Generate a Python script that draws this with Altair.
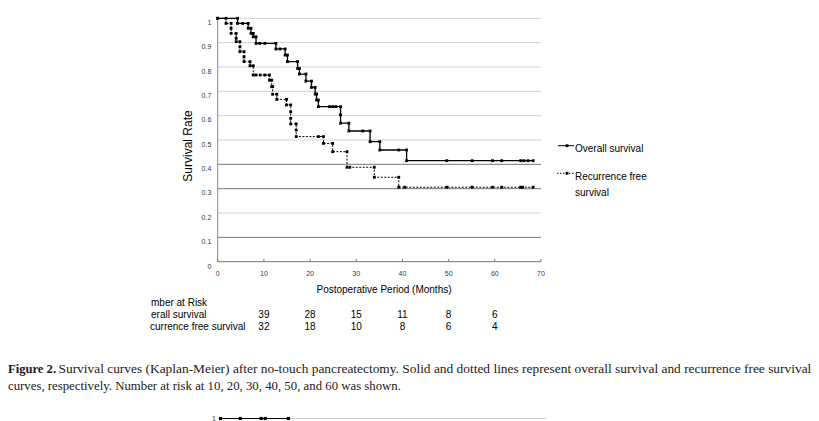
import altair as alt
import pandas as pd

# ---------------- data ----------------
os_t = [0, 4.3, 4.3, 5.4, 6.6, 6.6, 7.2, 7.2, 7.7, 7.7, 8.3, 8.3, 9.1, 10.2, 12.6,
        12.6, 13.5, 14.6, 14.6, 15.1, 15.1, 17.3, 17.3, 17.7, 17.7, 19.1, 19.1, 20.3,
        20.3, 21.1, 21.1, 21.4, 21.4, 21.8, 21.8, 24.2, 24.9, 25.6, 26.6, 26.6, 26.6,
        28.4, 28.4, 31.4, 33.0, 33.0, 35.1, 35.1, 39.2, 40.9, 40.9, 49.6, 55.1, 59.5,
        61.5, 65.6, 66.3, 67.2, 68.3]
os_s = [1.0, 1.0, 0.979, 0.979, 0.979, 0.959, 0.959, 0.938, 0.938, 0.924, 0.924, 0.897,
        0.897, 0.897, 0.897, 0.874, 0.874, 0.874, 0.849, 0.849, 0.822, 0.822, 0.794,
        0.794, 0.771, 0.771, 0.742, 0.742, 0.716, 0.716, 0.689, 0.689, 0.664, 0.664,
        0.637, 0.637, 0.637, 0.637, 0.637, 0.603, 0.569, 0.569, 0.537, 0.537, 0.537,
        0.493, 0.493, 0.459, 0.459, 0.459, 0.415, 0.415, 0.415, 0.415, 0.415, 0.415,
        0.415, 0.415, 0.415]

rfs_t = [0, 1.8, 1.8, 2.9, 2.9, 2.9, 4.0, 4.0, 4.0, 4.8, 4.8, 4.8, 5.7, 5.7, 5.7, 7.0,
         7.0, 7.7, 7.7, 8.3, 9.2, 10.2, 11.2, 11.2, 11.7, 11.7, 11.9, 11.9, 12.8, 12.8,
         14.9, 14.9, 15.8, 15.8, 15.8, 15.8, 17.0, 17.0, 17.0, 21.8, 22.9, 22.9, 24.9,
         24.9, 28.0, 28.0, 28.6, 33.9, 33.9, 39.2, 39.2, 40.5, 49.6, 55.1, 59.5, 61.5,
         65.6, 66.0, 68.3]
rfs_s = [1.0, 1.0, 0.979, 0.979, 0.959, 0.938, 0.938, 0.918, 0.904, 0.904, 0.883, 0.863,
         0.863, 0.842, 0.822, 0.822, 0.805, 0.805, 0.767, 0.767, 0.767, 0.767, 0.767,
         0.746, 0.746, 0.719, 0.719, 0.688, 0.688, 0.667, 0.667, 0.644, 0.644, 0.616,
         0.589, 0.566, 0.566, 0.541, 0.514, 0.514, 0.514, 0.486, 0.486, 0.452, 0.452,
         0.388, 0.388, 0.388, 0.347, 0.347, 0.306, 0.306, 0.306, 0.306, 0.306, 0.306,
         0.306, 0.306, 0.306]

grid_dotted = [0.2, 0.5, 0.6, 0.7, 0.8, 0.9, 1.0]
grid_solid = [0.1, 0.3, 0.4]
x_ticks = [0, 10, 20, 30, 40, 50, 60, 70]
x_labels = ["0", "10", "20", "30", "40", "50", "60", "70"]
y_ticks = [0, 0.1, 0.2, 0.3, 0.4, 0.5, 0.6, 0.7, 0.8, 0.9, 1.0]
y_labels = ["0", "0.1", "0.2", "0.3", "0.4", "0.5", "0.6", "0.7", "0.8", "0.9", "1"]

risk_times = [10, 20, 30, 40, 50, 60]
risk_os = [39, 28, 15, 11, 8, 6]
risk_rfs = [32, 18, 10, 8, 6, 4]

# fragment of the next figure at the bottom edge
frag_t = [0.6, 4.9, 9.4, 10.3, 15.3]

x_title = "Postoperative Period  (Months)"
y_title = "Survival Rate"
legend_os = "Overall survival"
legend_rfs = ["Recurrence free", "survival"]
risk_labels = ["mber at Risk", "erall survival", "currence free survival"]
cap_bold = "Figure 2."
cap_line1 = ("Survival curves (Kaplan-Meier) after no-touch pancreatectomy. Solid and dotted "
             "lines represent overall survival and recurrence free survival")
cap_line2 = "curves, respectively. Number at risk at 10, 20, 30, 40, 50, and 60 was shown."

# ---------------- layout (page pixels) ----------------
OX, OY = 217.7, 18.3     # page position of (t=0, S=1)
W, H = 323.3, 243.4

def px(x):
    return x - OX

def py(y):
    return y - OY

SANS = "Liberation Sans"
SERIF = "Liberation Serif"
TICKCOL = "#34345c"

xs = alt.Scale(domain=[0, 70], nice=False, zero=False)
ys = alt.Scale(domain=[0, 1], nice=False, zero=False)

def X(f):
    return alt.X(f, scale=xs, axis=None)

def Y(f):
    return alt.Y(f, scale=ys, axis=None)

df_os = pd.DataFrame({"t": os_t, "s": os_s, "i": range(len(os_t))})
df_rfs = pd.DataFrame({"t": rfs_t, "s": rfs_s, "i": range(len(rfs_t))})
df_gd = pd.DataFrame({"level": grid_dotted, "x0": 0, "x1": 70})
df_gs = pd.DataFrame({"level": grid_solid + [0.0], "x0": 0, "x1": 70})
df_xt = pd.DataFrame({"t": x_ticks, "lab": x_labels, "y0": 0.0, "y1": 0.011})
df_yt = pd.DataFrame({"v": y_ticks, "lab": y_labels})
df_risk = pd.DataFrame({"t": risk_times, "os": risk_os, "rfs": risk_rfs})
df_frag = pd.DataFrame({"t": frag_t})

grid_d = alt.Chart(df_gd).mark_rule(color="#a59db5", strokeDash=[1, 1], strokeWidth=1).encode(
    x=X("x0:Q"), x2="x1:Q", y=Y("level:Q"))
grid_s = alt.Chart(df_gs).mark_rule(color="#6f7c6f", strokeWidth=1).encode(
    x=X("x0:Q"), x2="x1:Q", y=Y("level:Q"))
yline = alt.Chart(pd.DataFrame({"x": [0], "y0": [0.0], "y1": [1.0]})).mark_rule(
    color="#8a8298", strokeWidth=1).encode(x=X("x:Q"), y=Y("y0:Q"), y2="y1:Q")
xticks = alt.Chart(df_xt).mark_rule(color="#6f7c6f", strokeWidth=1).encode(
    x=X("t:Q"), y=Y("y0:Q"), y2="y1:Q")
xlabels = alt.Chart(df_xt).mark_text(font=SANS, fontSize=7, color=TICKCOL, align="center",
                                     baseline="middle").encode(
    x=X("t:Q"), y=alt.value(py(274.3)), text="lab:N")
ylabels = alt.Chart(df_yt).mark_text(font=SANS, fontSize=7, color=TICKCOL, align="right",
                                     baseline="middle", dy=4.8).encode(
    x=alt.value(px(211.3)), y=Y("v:Q"), text="lab:N")

os_line = alt.Chart(df_os).mark_line(color="black", strokeWidth=1.3).encode(
    x=X("t:Q"), y=Y("s:Q"), order="i:Q")
os_pts = alt.Chart(df_os).mark_point(shape="square", filled=True, size=8, color="black",
                                      opacity=1).encode(x=X("t:Q"), y=Y("s:Q"))
rfs_line = alt.Chart(df_rfs).mark_line(color="black", strokeWidth=1, strokeDash=[2, 1.5]).encode(
    x=X("t:Q"), y=Y("s:Q"), order="i:Q")
rfs_pts = alt.Chart(df_rfs).mark_point(shape="square", filled=True, size=8, color="black",
                                        opacity=1).encode(x=X("t:Q"), y=Y("s:Q"))

one = pd.DataFrame({"k": [0]})

def txt(text, x, y, size, font=SANS, align="left", weight="normal", angle=0, color="black"):
    return alt.Chart(one).mark_text(text=text, font=font, fontSize=size, align=align,
                                    baseline="middle", fontWeight=weight, angle=angle,
                                    color=color).encode(
        x=alt.value(px(x)), y=alt.value(py(y)))

# legend samples
leg_os_line = alt.Chart(one).mark_rule(color="black", strokeWidth=1).encode(
    x=alt.value(px(558)), x2=alt.value(px(574)), y=alt.value(py(145.7)))
leg_os_pt = alt.Chart(one).mark_point(shape="square", filled=True, size=8, color="black",
                                       opacity=1).encode(
    x=alt.value(px(567)), y=alt.value(py(145.7)))
leg_rfs_line = alt.Chart(one).mark_rule(color="black", strokeWidth=1, strokeDash=[1.5, 1.5]).encode(
    x=alt.value(px(557)), x2=alt.value(px(574)), y=alt.value(py(173.3)))
leg_rfs_pt = alt.Chart(one).mark_point(shape="square", filled=True, size=8, color="black",
                                        opacity=1).encode(
    x=alt.value(px(567)), y=alt.value(py(173.3)))

texts = [
    txt(y_title, 188, 146, 12, align="center", angle=270),
    txt(x_title, 384, 290, 10, align="center"),
    txt(legend_os, 575, 149.3, 10),
    txt(legend_rfs[0], 575, 176.7, 10),
    txt(legend_rfs[1], 575, 192.5, 10),
    txt(risk_labels[0], 151, 303, 10),
    txt(risk_labels[1], 151, 315, 10),
    txt(risk_labels[2], 150, 327, 10),
    txt(cap_bold, 8, 368.5, 12.6, font=SERIF, weight="bold", color="#1a1a1a"),
    txt(cap_line1, 58.5, 368.5, 13.4, font=SERIF, color="#1a1a1a"),
    txt(cap_line2, 8, 386, 12.8, font=SERIF, color="#1a1a1a"),
    txt("1", 216, 418.5, 7, align="right", color=TICKCOL),
]

risk_os_txt = alt.Chart(df_risk).mark_text(font=SANS, fontSize=10, baseline="middle").encode(
    x=X("t:Q"), y=alt.value(py(315)), text="os:Q")
risk_rfs_txt = alt.Chart(df_risk).mark_text(font=SANS, fontSize=10, baseline="middle").encode(
    x=X("t:Q"), y=alt.value(py(327)), text="rfs:Q")

frag_grid = alt.Chart(pd.DataFrame({"a": [15.3], "b": [71.0]})).mark_rule(
    color="#a59db5", strokeDash=[1, 1]).encode(x=X("a:Q"), x2="b:Q", y=alt.value(py(418.5)))
frag_line = alt.Chart(df_frag).mark_line(color="black", strokeWidth=1.2).encode(
    x=X("t:Q"), y=alt.value(py(418.5)))
frag_pts = alt.Chart(df_frag).mark_point(shape="square", filled=True, size=10, color="black",
                                          opacity=1).encode(x=X("t:Q"), y=alt.value(py(418.5)))

chart = alt.layer(
    grid_d, grid_s, yline, xticks, xlabels, ylabels,
    rfs_line, rfs_pts, os_line, os_pts,
    leg_os_line, leg_os_pt, leg_rfs_line, leg_rfs_pt,
    risk_os_txt, risk_rfs_txt,
    frag_grid, frag_line, frag_pts,
    *texts,
).properties(
    width=W, height=H,
    autosize=alt.AutoSizeParams(type="none"),
    padding={"left": OX - 8, "top": OY - 8, "right": 803 - (OX - 8) - W,
             "bottom": 413 - (OY - 8) - H},
    background="white",
).configure_view(stroke=None)

chart.save("out.html", embed_options={"renderer": "svg", "actions": False})
